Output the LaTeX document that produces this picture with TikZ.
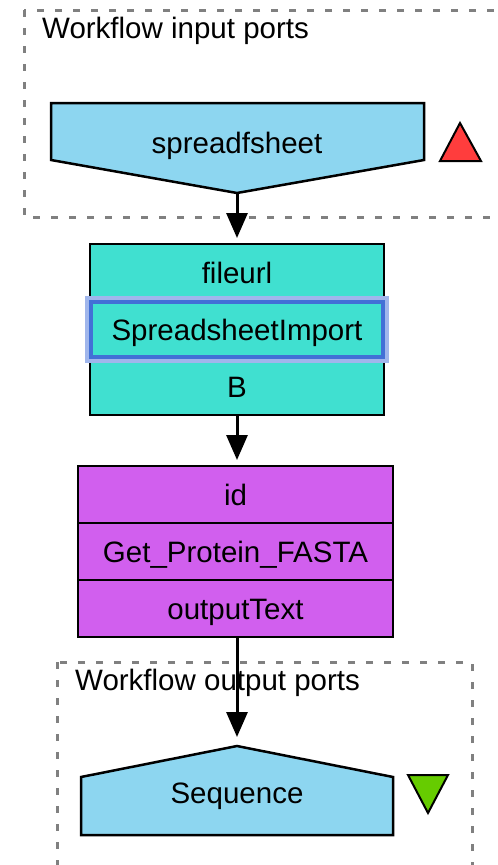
\documentclass[tikz,border=0pt]{standalone}
\usepackage{fontspec}
\setmainfont{Liberation Sans}
\usepackage{xcolor}
\usetikzlibrary{arrows.meta,calc}
\definecolor{portblue}{RGB}{141,214,240}
\definecolor{turq}{RGB}{64,224,208}
\definecolor{orchid}{RGB}{209,95,238}
\definecolor{portred}{RGB}{255,61,61}
\definecolor{portgreen}{RGB}{102,204,0}
\definecolor{selblue}{RGB}{66,112,214}
\definecolor{selhalo}{RGB}{160,182,236}
\definecolor{dashgray}{RGB}{128,128,128}
\tikzset{>={Triangle[width=21pt,length=25pt]}}
\tikzset{
	row/.style={draw,line width=2.5pt,minimum height=57pt,outer sep=0pt,inner sep=0pt,
		text height=21pt,text depth=0pt},
	porttext/.style={inner sep=0pt,text height=21pt,text depth=0pt},
	groupbox/.style={draw=dashgray,line width=3pt,dash pattern=on 7pt off 11pt},
	flow/.style={->,line width=3pt,shorten >=6pt}
}

\begin{document}
\begin{tikzpicture}[x=1pt,y=-1pt,every node/.style={font=\fontsize{29.5}{34}\selectfont}]
		\useasboundingbox (0,0) rectangle (498,865);
		\clip (0,0) rectangle (498,865);
		% port groups
		\draw[groupbox] (24,10) rectangle (520,217);
		\node[anchor=base west,inner sep=0pt] (inlabel) at (42,38) {Workflow input ports};
		\draw[groupbox] (57,662) rectangle (472,900);
		\node[anchor=base west,inner sep=0pt] (outlabel) at (75,690) {Workflow output ports};
		% input port
		\draw[fill=portblue,line width=2.5pt] (51,103) -- (424,103) -- (424,160) -- (237,193) -- (51,160) -- cycle;
		\coordinate (sstip) at (237,193);
		\node[porttext] (spreadsheet) at (237,143) {spreadfsheet};
		\draw[fill=portred,line width=2pt] (440,161) -- (481,161) -- (460,123) -- cycle;
		% SpreadsheetImport
		\node[row,fill=turq,minimum width=294pt] (fileurl) at (237,272.5) {fileurl};
		\node[row,fill=turq,minimum width=294pt] (import) at (237,329.5) {SpreadsheetImport};
		\node[row,fill=turq,minimum width=294pt] (bport) at (237,386.5) {B};
		\draw[selhalo,line width=3.5pt] ($(import.north west)+(-3,-3)$) rectangle ($(import.south east)+(3,3)$);
		\draw[selblue,line width=3.5pt] ($(import.north west)+(1,1)$) rectangle ($(import.south east)+(-1,-1)$);
		% Get_Protein_FASTA
		\node[row,fill=orchid,minimum width=315pt] (id) at (235.5,494.5) {id};
		\node[row,fill=orchid,minimum width=315pt] (fasta) at (235.5,551.5) {Get\_Protein\_FASTA};
		\node[row,fill=orchid,minimum width=315pt] (outtext) at (235.5,608.5) {outputText};
		% output port
		\draw[fill=portblue,line width=2.5pt] (81,777) -- (237,746) -- (393,777) -- (393,835) -- (81,835) -- cycle;
		\coordinate (seqtop) at (237,746);
		\node[porttext] (sequence) at (237,793) {Sequence};
		\draw[fill=portgreen,line width=2pt] (408,775) -- (448,775) -- (428,813) -- cycle;
		% links
		\draw[flow] (sstip) -- (fileurl.north);
		\draw[flow] (bport.south) -- (bport.south |- id.north);
		\draw[flow,shorten >=9pt] (outtext.south -| seqtop) -- (seqtop);
	\end{tikzpicture}
\end{document}
